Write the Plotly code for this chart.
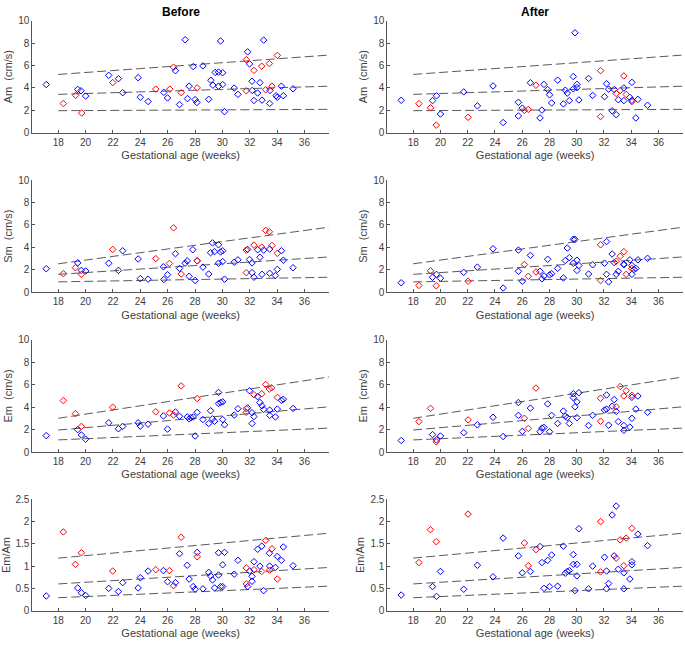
import plotly.graph_objects as go
from plotly.subplots import make_subplots

# ---------------- data ----------------
# (gestational age in weeks, value) pairs, blue = normal, red = highlighted
am_before_blue = [(17.12,4.3),(19.42,3.86),(19.66,3.74),(20.0,3.27),(21.69,5.12),(22.4,4.82),(22.71,3.57),
    (23.84,4.91),(24.0,3.16),(24.57,2.78),(25.72,3.6),(25.99,3.1),(26.57,5.53),(26.87,2.51),(27.28,8.3),
    (27.45,3.04),(27.57,4.15),(27.87,5.9),(28.01,2.95),(28.14,2.69),(28.58,5.96),(29.0,2.98),(29.16,4.68),
    (29.31,4.24),(29.48,5.38),(29.72,5.41),(29.72,4.15),(29.87,8.19),(30.02,5.35),(30.02,4.3),(30.16,1.87),
    (30.87,3.98),(31.14,3.42),(31.85,7.22),(31.99,6.14),(32.17,4.59),(32.19,3.77),(32.31,2.87),(32.58,3.54),
    (32.75,4.47),(32.9,2.9),(33.02,8.27),(33.49,3.77),(33.46,2.6),(33.93,3.3),(34.02,3.16),(34.32,4.15),
    (34.46,3.3),(35.17,3.92)]
am_before_red = [(18.37,2.6),(19.27,3.33),(19.71,1.75),(21.98,4.47),(25.13,3.89),(26.16,3.89),(26.43,5.85),
    (26.99,3.57),(28.16,4.0),(31.75,3.74),(31.75,6.52),(32.31,5.56),(32.88,5.94),(33.17,3.83),(33.44,6.17),
    (33.63,4.15),(34.02,6.9)]

am_after_blue = [(17.12,2.89),(19.42,2.86),(19.71,3.29),(20.0,1.66),(21.71,3.64),(22.71,2.39),(23.86,4.17),
    (24.6,0.9),(25.72,2.71),(25.72,1.49),(26.01,2.19),(26.6,4.46),(27.31,1.31),(27.45,2.01),(27.6,4.31),
    (27.87,3.85),(28.01,3.38),(28.16,2.65),(28.6,4.69),(29.02,2.57),(29.16,3.79),(29.31,3.53),(29.46,2.86),
    (29.75,5.01),(29.75,3.91),(29.87,8.92),(30.02,4.31),(30.02,4.02),(30.16,2.92),(30.87,4.84),(31.17,3.32),
    (32.04,3.21),(32.19,4.37),(32.34,3.88),(32.6,1.95),(32.75,3.85),(32.9,1.6),(33.05,2.94),(33.46,3.99),
    (33.46,2.86),(33.9,3.15),(34.05,4.49),(34.05,2.89),(34.34,1.31),(34.49,2.97),(35.2,2.45)]
am_after_red = [(18.42,2.59),(19.27,2.22),(19.69,0.67),(22.03,1.37),(26.16,1.98),(26.45,2.07),(27.01,4.23),
    (31.75,5.54),(31.75,1.43),(32.9,3.5),(33.19,3.76),(33.46,5.07),(33.63,3.41),(34.05,2.77)]

sm_before_blue = [(17.12,2.1),(19.42,2.62),(19.69,1.95),(20.0,1.9),(21.69,2.59),(22.4,1.95),(22.71,3.7),
    (23.84,2.97),(24.0,1.22),(24.57,1.17),(25.69,2.27),(25.72,1.14),(25.99,1.57),(26.57,3.44),(26.87,2.13),
    (27.28,2.59),(27.43,2.8),(27.57,1.43),(27.84,3.79),(28.01,1.05),(28.16,2.8),(28.58,2.24),(29.0,1.63),
    (29.14,3.53),(29.28,4.4),(29.43,3.62),(29.72,2.59),(29.72,4.23),(29.87,3.59),(30.02,3.7),(30.02,2.74),
    (30.16,1.17),(30.87,2.68),(31.14,2.89),(31.85,3.82),(31.99,2.92),(32.17,2.62),(32.17,1.75),(32.31,1.34),
    (32.58,3.79),(32.75,3.12),(32.9,1.6),(33.02,3.76),(33.46,3.85),(33.46,1.69),(33.88,1.49),(34.02,2.04),
    (34.32,3.7),(34.46,2.86),(35.17,2.19)]
sm_before_red = [(18.37,1.66),(19.25,2.19),(19.69,1.6),(21.98,3.82),(25.13,3.0),(26.13,2.57),(26.43,5.74),
    (26.99,1.63),(28.16,2.8),(31.75,3.76),(31.75,1.75),(32.31,4.2),(32.88,4.02),(33.17,5.51),(33.44,5.39),
    (33.63,4.17),(34.02,3.47)]

sm_after_blue = [(17.12,0.85),(19.42,1.34),(19.71,1.6),(20.0,1.25),(21.71,1.78),(22.71,2.24),(23.86,3.88),
    (24.6,0.38),(25.72,3.76),(25.72,1.87),(26.01,0.99),(26.6,3.29),(27.31,1.87),(27.45,1.2),(27.6,1.46),
    (27.87,2.94),(28.01,1.55),(28.16,1.66),(28.6,2.13),(29.02,1.28),(29.16,2.83),(29.31,3.94),(29.46,3.09),
    (29.75,2.59),(29.75,4.72),(29.87,4.72),(30.02,2.86),(30.02,1.95),(30.16,2.39),(30.87,1.63),(31.17,2.45),
    (32.04,2.59),(32.19,4.52),(32.19,1.6),(32.34,0.93),(32.6,3.41),(32.75,2.65),(32.9,1.6),(33.05,1.87),
    (33.46,2.51),(33.46,2.45),(33.9,2.89),(34.05,2.39),(34.05,1.6),(34.2,2.04),(34.34,2.13),(34.49,2.89),
    (35.2,3.03)]
sm_after_red = [(18.42,0.61),(19.27,1.92),(19.69,0.58),(22.03,0.99),(26.16,2.48),(26.45,1.43),(27.01,1.81),
    (31.75,4.23),(31.75,1.05),(32.9,2.77),(33.19,3.21),(33.46,3.62),(33.63,1.6),(34.05,2.13)]

em_before_blue = [(17.12,1.48),(19.42,2.01),(19.69,1.54),(20.0,1.16),(21.69,2.62),(22.4,2.09),(22.71,2.3),
    (23.84,2.62),(24.0,2.33),(24.57,2.5),(25.69,3.23),(25.99,2.06),(26.57,3.58),(26.87,3.2),(27.43,3.14),
    (27.57,2.97),(27.7,3.08),(27.87,3.14),(28.01,1.45),(28.16,3.55),(28.58,2.91),(29.0,2.56),(29.14,3.69),
    (29.28,2.97),(29.43,2.76),(29.72,5.32),(29.72,4.33),(29.87,4.42),(30.02,4.48),(30.02,2.91),(30.16,2.44),
    (30.87,3.31),(31.14,3.87),(31.85,3.95),(31.99,5.47),(32.17,3.52),(32.17,2.56),(32.31,3.17),(32.58,4.94),
    (32.75,4.42),(32.9,4.13),(33.02,3.81),(33.46,3.75),(33.46,3.28),(33.88,3.14),(34.02,3.84),(34.32,4.62),
    (34.46,4.71),(35.17,3.9)]
em_before_red = [(18.37,4.59),(19.25,3.43),(19.69,2.3),(21.98,4.01),(25.13,3.6),(26.13,3.49),(26.43,3.31),
    (26.99,5.9),(28.16,4.77),(31.75,3.55),(31.75,3.87),(32.31,5.12),(32.88,5.2),(33.17,6.02),(33.44,5.61),
    (33.6,5.73),(34.02,4.88)]

em_after_blue = [(17.12,1.05),(19.42,1.57),(19.71,1.1),(20.0,1.45),(21.71,1.74),(22.71,2.44),(23.86,3.11),
    (24.6,1.4),(25.72,4.42),(25.72,3.28),(26.01,1.86),(26.6,3.92),(27.31,1.83),(27.45,2.15),(27.6,2.21),
    (27.87,4.3),(28.01,1.83),(28.16,3.28),(28.6,2.56),(29.02,3.66),(29.16,3.2),(29.31,3.08),(29.46,2.56),
    (29.75,5.2),(29.75,4.85),(29.87,4.04),(30.02,4.48),(30.02,3.08),(30.16,5.29),(30.87,2.38),(31.17,3.28),
    (32.04,3.75),(32.19,5.09),(32.19,3.84),(32.34,2.41),(32.6,4.1),(32.75,4.68),(32.9,3.63),(33.05,2.73),
    (33.46,2.38),(33.46,1.95),(33.9,2.24),(34.05,4.88),(34.05,3.02),(34.34,3.84),(34.49,5.0),(35.2,3.55)]
em_after_red = [(18.42,2.73),(19.27,3.9),(19.69,0.93),(22.03,2.88),(26.16,3.02),(26.45,2.12),(27.01,5.7),
    (31.75,4.8),(31.75,2.76),(32.9,4.04),(33.19,5.84),(33.46,5.0),(33.63,5.47),(34.05,5.06)]

ratio_before_blue = [(17.12,0.33),(19.42,0.51),(19.69,0.4),(20.0,0.34),(21.69,0.5),(22.4,0.43),(22.71,0.63),
    (23.84,0.51),(24.0,0.74),(24.57,0.89),(25.69,0.9),(25.99,0.65),(26.57,0.63),(26.87,1.28),(27.43,1.02),
    (27.57,0.71),(27.87,0.54),(28.01,0.48),(28.16,1.31),(28.58,0.49),(29.0,0.86),(29.14,0.78),(29.28,0.69),
    (29.43,0.51),(29.72,1.3),(29.72,0.8),(29.87,0.54),(30.02,0.54),(30.02,1.03),(30.16,1.31),(30.87,0.82),
    (31.14,1.13),(31.85,0.54),(31.99,0.89),(32.17,0.77),(32.17,0.66),(32.31,1.1),(32.58,1.38),(32.75,1.0),
    (32.88,1.45),(33.02,0.45),(33.44,1.29),(33.46,1.0),(33.88,0.97),(34.02,1.22),(34.32,1.13),(34.46,1.43),
    (35.17,1.01)]
ratio_before_red = [(18.37,1.77),(19.25,1.04),(19.69,1.3),(21.98,0.89),(25.13,0.92),(26.13,0.9),(26.43,0.56),
    (26.99,1.65),(28.16,1.21),(31.75,0.96),(31.75,0.6),(32.31,0.92),(32.88,0.88),(33.17,1.58),(33.46,0.91),
    (33.63,1.39),(34.02,0.71)]

ratio_after_blue = [(17.12,0.35),(19.42,0.54),(19.71,0.32),(20.0,0.88),(21.71,0.48),(22.71,1.02),(23.86,0.76),
    (24.6,1.63),(25.72,1.23),(26.01,0.85),(26.6,0.88),(27.31,1.44),(27.45,1.08),(27.6,0.5),(27.87,1.13),
    (28.01,0.54),(28.16,1.25),(28.6,0.55),(29.02,1.45),(29.16,0.84),(29.31,0.88),(29.46,0.9),(29.75,1.26),
    (29.75,1.04),(29.87,0.45),(30.02,1.04),(30.02,0.78),(30.16,1.84),(30.87,0.49),(31.17,1.0),(32.04,1.2),
    (32.19,0.89),(32.19,0.49),(32.34,0.61),(32.6,2.15),(32.75,1.23),(32.9,2.35),(33.05,0.93),(33.46,0.85),
    (33.46,0.49),(33.9,0.71),(34.05,1.1),(34.05,1.03),(34.49,1.72),(35.2,1.46)]
ratio_after_red = [(18.42,1.08),(19.27,1.82),(19.69,1.55),(22.03,2.17),(26.16,1.52),(26.45,1.01),(27.01,1.37),
    (31.75,2.0),(31.75,0.87),(32.9,1.18),(33.19,1.59),(33.46,1.01),(33.63,1.63),(34.05,1.85)]

# reference (percentile) lines: values at ref_x ends
ref_x = [18, 37.8]
am_ref = [[1.96, 2.08], [3.42, 4.15], [5.2, 6.93]]
sm_ref = [[0.93, 1.34], [1.6, 3.15], [2.54, 5.8]]
em_ref = [[1.1, 2.15], [1.98, 4.04], [3.02, 6.69]]
ratio_ref = [[0.29, 0.55], [0.6, 0.97], [1.18, 1.74]]

x_ticks = [18, 20, 22, 24, 26, 28, 30, 32, 34, 36]
y_ticks_cms = [0, 2, 4, 6, 8, 10]
y_ticks_ratio = [0, 0.5, 1, 1.5, 2, 2.5]
y_ticktext_ratio = ["0", "0.5", "1", "1.5", "2", "2.5"]
row_titles = ["Am  (cm/s)", "Sm  (cm/s)", "Em  (cm/s)", "Em/Am"]
col_titles = ["Before", "After"]
x_title = "Gestational age (weeks)"

# ---------------- figure ----------------
W, H = 685, 649
TXT = "#404040"
FONT = "Liberation Sans, Arial, sans-serif"

fig = make_subplots(rows=4, cols=2)

panels = [
    (1, 1, am_before_blue, am_before_red, am_ref),
    (1, 2, am_after_blue, am_after_red, am_ref),
    (2, 1, sm_before_blue, sm_before_red, sm_ref),
    (2, 2, sm_after_blue, sm_after_red, sm_ref),
    (3, 1, em_before_blue, em_before_red, em_ref),
    (3, 2, em_after_blue, em_after_red, em_ref),
    (4, 1, ratio_before_blue, ratio_before_red, ratio_ref),
    (4, 2, ratio_after_blue, ratio_after_red, ratio_ref),
]

for r, c, blue, red, ref in panels:
    for vals in ref:
        fig.add_trace(go.Scatter(x=ref_x, y=vals, mode="lines",
                                 line=dict(color="#5a5a5a", width=1, dash="9px,4px"),
                                 showlegend=False, hoverinfo="skip"), row=r, col=c)
    fig.add_trace(go.Scatter(x=[p[0] for p in blue], y=[p[1] for p in blue], mode="markers",
                             marker=dict(symbol="diamond-open", size=5, color="#0000ff",
                                         line=dict(width=1, color="#0000ff")),
                             showlegend=False), row=r, col=c)
    fig.add_trace(go.Scatter(x=[p[0] for p in red], y=[p[1] for p in red], mode="markers",
                             marker=dict(symbol="diamond-open", size=5, color="#ff0000",
                                         line=dict(width=1, color="#ff0000")),
                             showlegend=False), row=r, col=c)

# pixel layout
col_px = [(32.3, 329.0), (387.3, 683.0)]
row_px = [(15.0, 129.0), (177.3, 291.7), (340.0, 454.7), (502.7, 616.0)]

axis_common = dict(showgrid=False, zeroline=False, showline=True, linecolor="#555555",
                   linewidth=1, ticks="inside", ticklen=3, tickcolor="#555555",
                   tickfont=dict(size=10, color=TXT, family=FONT), mirror=False)

for r in range(4):
    for c in range(2):
        x0, x1 = col_px[c]
        yt, yb = row_px[r]
        fig.update_xaxes(domain=[x0 / W, x1 / W], range=[16.1, 37.8], tickvals=x_ticks,
                         title=dict(text=x_title, font=dict(size=11, color=TXT, family=FONT), standoff=4),
                         row=r + 1, col=c + 1, **axis_common)
        if r < 3:
            fig.update_yaxes(domain=[1 - yb / H, 1 - yt / H], range=[0, 10], tickvals=y_ticks_cms,
                             row=r + 1, col=c + 1, **axis_common)
        else:
            fig.update_yaxes(domain=[1 - yb / H, 1 - yt / H], range=[0, 2.5], tickvals=y_ticks_ratio,
                             ticktext=y_ticktext_ratio, row=r + 1, col=c + 1, **axis_common)
        fig.update_yaxes(title=dict(text=row_titles[r], font=dict(size=11, color=TXT, family=FONT),
                                    standoff=3), row=r + 1, col=c + 1)

annotations = []
for c in range(2):
    x0, x1 = col_px[c]
    annotations.append(dict(text="<b>" + col_titles[c] + "</b>", x=(x0 + x1) / 2 / W, y=1 - 6 / H,
                            xref="paper", yref="paper", xanchor="center", yanchor="middle",
                            showarrow=False, font=dict(size=12, color="#000000", family=FONT)))

fig.update_layout(width=W, height=H, margin=dict(l=0, r=0, t=0, b=0),
                  paper_bgcolor="white", plot_bgcolor="white",
                  annotations=annotations, font=dict(family=FONT))

# remove the browser's default page margin so the figure fills the window exactly
fig.write_html("out.html", config={"displayModeBar": False},
               post_script="document.body.style.margin='0';")
